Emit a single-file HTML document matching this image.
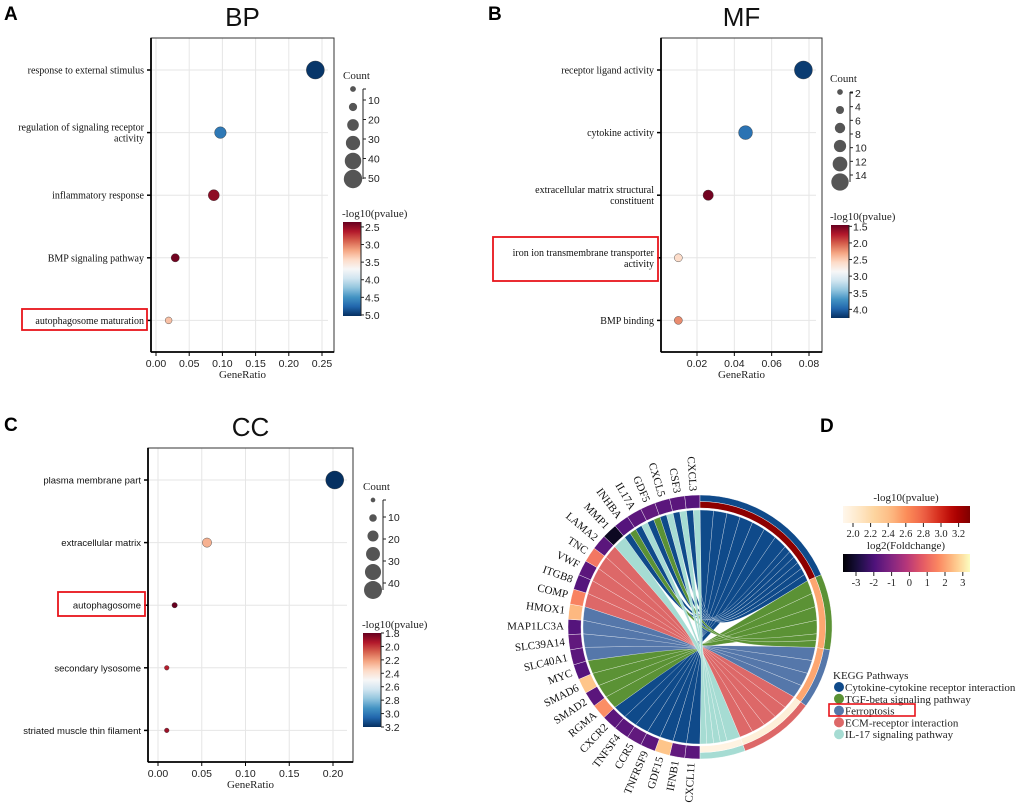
<!DOCTYPE html>
<html><head><meta charset="utf-8"><style>
html,body{margin:0;padding:0;background:#fff;}
svg{display:block;}
.ser{font-family:"Liberation Serif",serif;}
.san{font-family:"Liberation Sans",sans-serif;}
</style></head><body>
<svg id="fig" width="1020" height="808" viewBox="0 0 1020 808" xmlns="http://www.w3.org/2000/svg">
<defs id="defs"></defs>
<g id="root"></g>
</svg>
<script>
// ---------- Panel A (BP) data ----------
const bpTerms=["response to external stimulus","regulation of signaling receptor|activity","inflammatory response","BMP signaling pathway","autophagosome maturation"];
const bpRatio=[0.240,0.097,0.087,0.029,0.019];
const bpCount=[48,20,18,10,7];
const bpP=[5.0,4.65,2.5,2.4,3.3];
const bpTicks=[0,0.05,0.10,0.15,0.20,0.25];
const bpTickLabels=["0.00","0.05","0.10","0.15","0.20","0.25"];
const bpCountLegend=[5,10,20,30,40,50];
const bpCountLabels=["10","20","30","40","50"];
const bpPTicks=[2.5,3.0,3.5,4.0,4.5,5.0];
// ---------- Panel B (MF) data ----------
const mfTerms=["receptor ligand activity","cytokine activity","extracellular matrix structural|constituent","iron ion transmembrane transporter|activity","BMP binding"];
const mfRatio=[0.077,0.046,0.026,0.010,0.010];
const mfCount=[15,9,5,3,3];
const mfP=[4.2,3.9,1.5,2.6,2.2];
const mfTicks=[0.02,0.04,0.06,0.08];
const mfTickLabels=["0.02","0.04","0.06","0.08"];
const mfCountLegend=[1.5,3,5,7,10,14];
const mfCountLabels=["2","4","6","8","10","12","14"];
const mfPTicks=[1.5,2.0,2.5,3.0,3.5,4.0];
// ---------- Panel C (CC) data ----------
const ccTerms=["plasma membrane part","extracellular matrix","autophagosome","secondary lysosome","striated muscle thin filament"];
const ccRatio=[0.202,0.056,0.019,0.010,0.010];
const ccCount=[45,12,4,3,3];
const ccP=[3.2,2.25,1.8,1.95,1.9];
const ccTicks=[0,0.05,0.10,0.15,0.20];
const ccTickLabels=["0.00","0.05","0.10","0.15","0.20"];
const ccCountLegend=[3,8,17,27,36,45];
const ccCountLabels=["10","20","30","40"];
const ccPTicks=[1.8,2.0,2.2,2.4,2.6,2.8,3.0,3.2];
// ---------- Panel D (chord) data ----------
const genes=["CXCL11","IFNB1","GDF15","TNFRSF9","CCR5","TNFSF4","CXCR2","RGMA","SMAD2","SMAD6","MYC","SLC40A1","SLC39A14","MAP1LC3A","HMOX1","COMP","ITGB8","VWF","TNC","LAMA2","MMP1","INHBA","IL17A","GDF5","CXCL5","CSF3","CXCL3"];
const geneLogFC=[-1.5,-1.4,2.6,-1.5,-1.4,-1.5,-1.5,1.8,-1.5,2.6,-1.6,-1.5,-1.4,-1.6,2.4,1.6,-1.6,-1.5,1.4,-1.5,-3.0,-1.6,-1.5,-1.4,-1.5,-1.5,-1.6];
const genePathways=["C","C","C","C","C","C","C","T","T","T","T","F","F","F","F","E","E","E","E","E","I","CT","CI","CT","CI","CI","CI"];
const pathwayKeys=["C","T","F","E","I"];
const pathwayNames=["Cytokine-cytokine receptor interaction","TGF-beta signaling pathway","Ferroptosis","ECM-receptor interaction","IL-17 signaling pathway"];
const pathwayP=[3.3,2.5,2.5,1.95,1.9];
const pvalTickLabels=["2.0","2.2","2.4","2.6","2.8","3.0","3.2"];
const fcTickLabels=["-3","-2","-1","0","1","2","3"];
</script>
<script>
const NS="http://www.w3.org/2000/svg";
const root=document.getElementById('root');
const defs=document.getElementById('defs');
function mk(tag,attrs,parent,text){const e=document.createElementNS(NS,tag);for(const k in attrs)e.setAttribute(k,attrs[k]);if(text!==undefined)e.textContent=text;(parent||root).appendChild(e);return e;}
function hex2rgb(h){return [parseInt(h.substr(1,2),16),parseInt(h.substr(3,2),16),parseInt(h.substr(5,2),16)];}
function interp(stops,t){t=Math.max(0,Math.min(1,t));const n=stops.length-1;const i=Math.min(n-1,Math.floor(t*n));const f=t*n-i;const a=hex2rgb(stops[i]),b=hex2rgb(stops[i+1]);return 'rgb('+a.map((v,k)=>Math.round(v+(b[k]-v)*f)).join(',')+')';}
const RDBU=["#67001f","#b2182b","#d6604d","#f4a582","#fddbc7","#f7f7f7","#d1e5f0","#92c5de","#4393c3","#2166ac","#053061"];
const ORRD=["#fff7ec","#fee8c8","#fdd49e","#fdbb84","#fc8d59","#ef6548","#d7301f","#b30000","#7f0000"];
const MAGMA=["#000004","#1c1044","#4f127b","#812581","#b5367a","#e55964","#fb8761","#fec287","#fcfdbf"];

function panelLetter(t,x,y){const e=mk('text',{x:x,y:y,class:'san','font-size':19,'font-weight':'bold',fill:'#000'},root,t);
}

function dotPanel(o){
  const g=mk('g',{});
  
  const xs=v=>o.px0+(v-o.v0)*o.k;
  const ys=i=>o.y0+32+i*62.6;
  const tt=mk('text',{x:(o.x0+o.x1)/2,y:o.y0-12,'text-anchor':'middle',class:'san','font-size':26,fill:'#111'},g,o.title);
  
  o.ticks.forEach((v,i)=>{const l=mk('line',{x1:xs(v),x2:xs(v),y1:o.y0,y2:o.y1,stroke:'#e6e6e6','stroke-width':1},g);
    });
  o.terms.forEach((t,i)=>{const l=mk('line',{x1:o.x0,x2:o.x1-6,y1:ys(i),y2:ys(i),stroke:'#e6e6e6','stroke-width':1},g);
    });
  const box=mk('rect',{x:o.x0,y:o.y0,width:o.x1-o.x0,height:o.y1-o.y0,fill:'none',stroke:'#333','stroke-width':1},g);
  
  mk('line',{x1:o.x0,x2:o.x0,y1:o.y0,y2:o.y1,stroke:'#000','stroke-width':1.8},g);
  mk('line',{x1:o.x0,x2:o.x1,y1:o.y1,y2:o.y1,stroke:'#000','stroke-width':1.8},g);
  o.ticks.forEach((v,i)=>{mk('line',{x1:xs(v),x2:xs(v),y1:o.y1,y2:o.y1+4,stroke:'#000'},g);
    const tl=mk('text',{x:xs(v),y:o.y1+15,'text-anchor':'middle',class:'san','font-size':10.5,fill:'#222'},g,o.tickLabels[i]);
    });
  const xl=mk('text',{x:(o.x0+o.x1)/2,y:o.y1+26,'text-anchor':'middle',class:'ser','font-size':11,fill:'#222'},g,'GeneRatio');
  
  o.terms.forEach((t,i)=>{mk('line',{x1:o.x0-4,x2:o.x0,y1:ys(i),y2:ys(i),stroke:'#000','stroke-width':1.5},g);
    const parts=t.split('|');
    parts.forEach((p,j)=>{const yy=ys(i)+3.5+(j-(parts.length-1)/2)*11;
      const tl=mk('text',{x:o.x0-7,y:yy,'text-anchor':'end',class:o.yfont,'font-size':o.yfs,fill:'#111'},g,p);
      });});
  const hb=mk('rect',{x:o.hl[0],y:o.hl[1],width:o.hl[2],height:o.hl[3],fill:'none',stroke:'#e8141b','stroke-width':1.8},g);
  
  const col=v=>interp(RDBU,(v-o.pmin)/(o.pmax-o.pmin));
  o.terms.forEach((t,i)=>{const c=mk('circle',{cx:xs(o.ratio[i]),cy:ys(i),r:o.rk*Math.sqrt(o.count[i]),fill:col(o.p[i]),stroke:'#333','stroke-width':0.4},g);
    });
  const lt=mk('text',{x:o.lx-2,y:o.ly,class:'ser','font-size':11,fill:'#222'},g,'Count');
  
  const cys=o.countLegend.map((c,i)=>o.ly+10+i*18);
  o.countLegend.forEach((c,i)=>{const cc=mk('circle',{cx:o.lx+8,cy:cys[i],r:o.rk*Math.sqrt(c),fill:'#555'},g);
    });
  const ax=o.lx+18;
  mk('line',{x1:ax,x2:ax,y1:cys[0],y2:cys[cys.length-1],stroke:'#222'},g);
  mk('line',{x1:ax,x2:ax+3,y1:cys[0],y2:cys[0],stroke:'#222'},g);
  const n=o.countLabels.length;
  const la=cys[0]+o.lab[0],lb=cys[cys.length-1]+o.lab[1];
  o.countLabels.forEach((s,i)=>{const yy=la+i*(lb-la)/(n-1);
    mk('line',{x1:ax,x2:ax+3,y1:yy,y2:yy,stroke:'#222'},g);
    const tl=mk('text',{x:ax+5,y:yy+4,class:'san','font-size':10.5,fill:'#222'},g,s);
    });
  const gid='cb-'+o.id;const lg=mk('linearGradient',{id:gid,x1:0,y1:0,x2:0,y2:1},defs);
  for(let s=0;s<=20;s++){mk('stop',{offset:s/20,'stop-color':interp(RDBU,s/20)},lg);}
  const ct=mk('text',{x:o.cx-1,y:o.cy0-5,class:'ser','font-size':11,fill:'#222'},g,'-log10(pvalue)');
  
  const cb=mk('rect',{x:o.cx,y:o.cy0,width:18,height:o.cy1-o.cy0,fill:'url(#'+gid+')'},g);
  
  mk('line',{x1:o.cx+18,x2:o.cx+18,y1:o.cy0,y2:o.cy1,stroke:'#222'},g);
  const cyv=v=>o.cy0+(v-o.pmin)/(o.pmax-o.pmin)*(o.cy1-o.cy0);
  o.pTicks.forEach(v=>{mk('line',{x1:o.cx+18,x2:o.cx+21,y1:cyv(v),y2:cyv(v),stroke:'#222'},g);
    const tl=mk('text',{x:o.cx+22,y:cyv(v)+4,class:'san','font-size':10.5,fill:'#222'},g,v.toFixed(1));
    });
}

panelLetter('A',4,20);panelLetter('B',488,20);panelLetter('C',4,431);panelLetter('D',820,432);

dotPanel({id:'bp',title:'BP',terms:bpTerms,ratio:bpRatio,count:bpCount,p:bpP,ticks:bpTicks,tickLabels:bpTickLabels,
 x0:151,x1:334,y0:38,y1:352,px0:156,v0:0,k:664,yfont:'ser',yfs:10,hl:[22,309,125,21],rk:1.3,lab:[11,-1],
 countLegend:bpCountLegend,countLabels:bpCountLabels,lx:345,ly:79,cx:343,cy0:222,cy1:316,pmin:2.36,pmax:5.03,pTicks:bpPTicks});
dotPanel({id:'mf',title:'MF',terms:mfTerms,ratio:mfRatio,count:mfCount,p:mfP,ticks:mfTicks,tickLabels:mfTickLabels,
 x0:661,x1:822,y0:38,y1:352,px0:697,v0:0.02,k:1866.7,yfont:'ser',yfs:10,hl:[493,237,165,44],rk:2.32,lab:[1,-7],
 countLegend:mfCountLegend,countLabels:mfCountLabels,lx:832,ly:82,cx:831,cy0:225,cy1:318,pmin:1.46,pmax:4.26,pTicks:mfPTicks});
dotPanel({id:'cc',title:'CC',terms:ccTerms,ratio:ccRatio,count:ccCount,p:ccP,ticks:ccTicks,tickLabels:ccTickLabels,
 x0:148,x1:353,y0:448,y1:762,px0:158,v0:0,k:875,yfont:'san',yfs:9.5,hl:[58,592,87,24],rk:1.34,lab:[17,-7],
 countLegend:ccCountLegend,countLabels:ccCountLabels,lx:365,ly:490,cx:363,cy0:633,cy1:727,pmin:1.8,pmax:3.2,pTicks:ccPTicks});

// ---------- Chord ----------
(function(){
 const g=mk('g',{});
 const CX=700,CY=627,R0=132,R1=119,RR=117;
 const PX=702,PY=645;
 const pcol={C:'#0f4a8a',T:'#5b9235',F:'#5577aa',E:'#dd6868',I:'#a6dcd3'};
 const pt=(a,r)=>[CX+r*Math.sin(a*Math.PI/180),CY-r*Math.cos(a*Math.PI/180)];
 const arc=(a0,a1,ri,ro,fill,name)=>{const p1=pt(a0,ro),p2=pt(a1,ro),p3=pt(a1,ri),p4=pt(a0,ri);const lf=(a1-a0)>180?1:0;
  const e=mk('path',{d:`M${p1}A${ro},${ro} 0 ${lf} 1 ${p2}L${p3}A${ri},${ri} 0 ${lf} 0 ${p4}Z`,fill:fill,stroke:'#fff','stroke-width':0.4},g);
  return e;};
 const n=genes.length,step=180/n;
 const size={C:0,T:0,F:0,E:0,I:0};
 genePathways.forEach(s=>{for(const c of s)size[c]+=1/s.length;});
 let acc=0;const pStart={};
 pathwayKeys.forEach(k=>{pStart[k]=acc;acc+=size[k]*step;});
 const cursor={};pathwayKeys.forEach(k=>cursor[k]=pStart[k]);
 const segs=[];
 for(let i=0;i<n;i++){const s=genePathways[i];const ga=180+i*step;const w=step/s.length;
   [...s].forEach((c,j)=>{segs.push({gene:i,pw:c,l0:ga+j*w,l1:ga+(j+1)*w});});}
 segs.sort((a,b)=>a.l0-b.l0);
 segs.forEach(sg=>{const w=sg.l1-sg.l0;sg.r0=cursor[sg.pw];sg.r1=sg.r0+w;cursor[sg.pw]+=w;});
 segs.forEach(sg=>{const a=pt(sg.l0,RR),b=pt(sg.l1,RR),c=pt(sg.r0,RR),d=pt(sg.r1,RR);
   const e=mk('path',{d:`M${a}A${RR},${RR} 0 0 1 ${b}C${PX},${PY} ${PX},${PY} ${c}A${RR},${RR} 0 0 1 ${d}C${PX},${PY} ${PX},${PY} ${a}Z`,fill:pcol[sg.pw],stroke:'#fff','stroke-width':0.3},g);
   });
 genes.forEach((gn,i)=>{const a0=180+i*step,a1=a0+step;
   arc(a0,a1,R1,R0,interp(MAGMA,(geneLogFC[i]+3.4)/6.8),'gene-arc-'+gn.toLowerCase());
   const am=(a0+a1)/2;const p=pt(am,R0+4);
   const t=mk('text',{x:p[0],y:p[1],'text-anchor':'end','dominant-baseline':'middle',class:'ser','font-size':11,fill:'#111',transform:`rotate(${am-270} ${p[0]} ${p[1]})`},g,gn);
   });
 pathwayKeys.forEach((k,i)=>{const a0=pStart[k],a1=a0+size[k]*step;
   arc(a0,a1,R1+6.5,R0,pcol[k],'pathway-arc-'+k);
   arc(a0,a1,R1,R1+6.5,interp(ORRD,(pathwayP[i]-1.85)/1.5),'pathway-pvalue-arc-'+k);});
 const lg1=mk('linearGradient',{id:'pvgrad',x1:0,y1:0,x2:1,y2:0},defs);
 const lg2=mk('linearGradient',{id:'fcgrad',x1:0,y1:0,x2:1,y2:0},defs);
 for(let s=0;s<=20;s++){mk('stop',{offset:s/20,'stop-color':interp(ORRD,s/20)},lg1);mk('stop',{offset:s/20,'stop-color':interp(MAGMA,s/20)},lg2);}
 const t1=mk('text',{x:906,y:501,'text-anchor':'middle',class:'ser','font-size':11,fill:'#222'},g,'-log10(pvalue)');
 
 const b1=mk('rect',{x:843,y:506,width:127,height:17,fill:'url(#pvgrad)'},g);
 
 pvalTickLabels.forEach((s,i)=>{const x=853+i*17.6;mk('line',{x1:x,x2:x,y1:523,y2:527,stroke:'#222'},g);
   const e=mk('text',{x:x,y:537,'text-anchor':'middle',class:'ser','font-size':10.5,fill:'#222'},g,s);
   });
 const t2=mk('text',{x:906,y:549,'text-anchor':'middle',class:'ser','font-size':11,fill:'#222'},g,'log2(Foldchange)');
 
 const b2=mk('rect',{x:843,y:554,width:127,height:18,fill:'url(#fcgrad)'},g);
 
 fcTickLabels.forEach((s,i)=>{const x=856+i*17.8;mk('line',{x1:x,x2:x,y1:572,y2:576,stroke:'#222'},g);
   const e=mk('text',{x:x,y:586,'text-anchor':'middle',class:'ser','font-size':10.5,fill:'#222'},g,s);
   });
 const kt=mk('text',{x:833,y:679,class:'ser','font-size':11,fill:'#222'},g,'KEGG Pathways');
 
 pathwayNames.forEach((nm,i)=>{const y=687+i*11.8;
   const c=mk('circle',{cx:839,cy:y,r:5,fill:pcol[pathwayKeys[i]]},g);
   
   const e=mk('text',{x:845,y:y+4,class:'ser','font-size':11,fill:'#222'},g,nm);
   });
 const hb=mk('rect',{x:829,y:704,width:86,height:12,fill:'none',stroke:'#e8141b','stroke-width':1.6},g);
 
})();
</script>
</body></html>
